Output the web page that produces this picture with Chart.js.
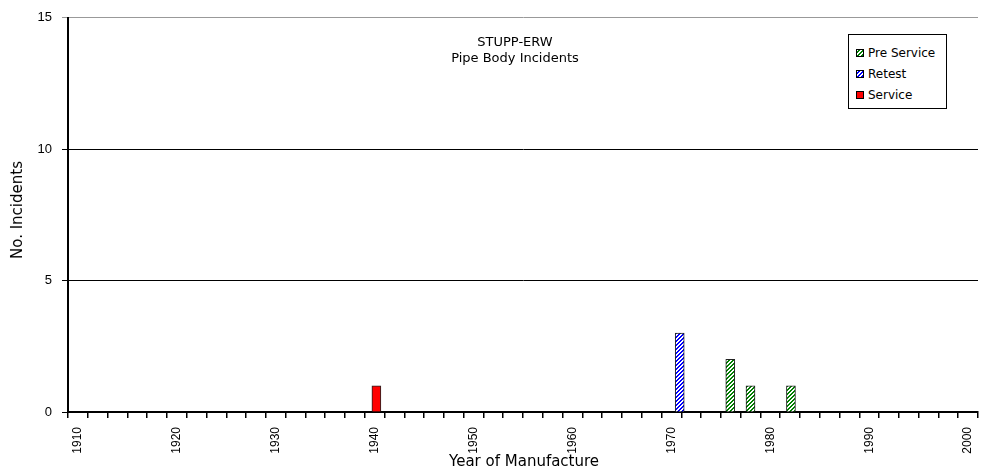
<!DOCTYPE html>
<html>
<head>
<meta charset="utf-8">
<script src="https://cdn.jsdelivr.net/npm/chart.js@4/dist/chart.umd.min.js"></script>
<style>
  body { margin: 0; background: #fff; }
  #wrap { position: relative; width: 985px; height: 474px; font-family: "DejaVu Sans", sans-serif; color: #000; }
  #chart { position: absolute; left: 0; top: 0; }
  .title { position: absolute; left: 415px; width: 200px; text-align: center; font-size: 13px; }
  .axtitle { position: absolute; font-size: 15px; white-space: nowrap; }
  #legend { position: absolute; left: 848px; top: 34px; width: 97px; height: 73px; border: 1px solid #000; background: #fff; }
  .item { position: absolute; left: 7px; height: 16px; line-height: 16px; font-size: 12px; }
  .sw { display: inline-block; width: 6px; height: 6px; border: 1px solid #000; margin-right: 4px; vertical-align: 0px; }
</style>
</head>
<body>
<div id="wrap">
  <canvas id="chart" width="985" height="474"></canvas>
  <div class="title" style="top:34px">STUPP-ERW</div>
  <div class="title" style="top:50px">Pipe Body Incidents</div>
  <div class="axtitle" style="left:-32px;top:201px;transform:rotate(-90deg)">No. Incidents</div>
  <div class="axtitle" style="left:449px;top:452px">Year of Manufacture</div>
  <div id="legend"></div>
</div>
<script>
// data
const preServiceYears = [1975, 1977, 1981];
const preServiceCounts = [2, 1, 1];
const retestYears = [1970];
const retestCounts = [3];
const serviceYears = [1940];
const serviceCounts = [1];

const yTicks = [0, 5, 10, 15];
const xLabelYears = [1910, 1920, 1930, 1940, 1950, 1960, 1970, 1980, 1990, 2000];

// one category per year of manufacture
const years = [];
for (let y = 1910; y < 2000; y++) years.push(String(y));

function hatch(color) {
  const c = document.createElement('canvas');
  c.width = 4; c.height = 4;
  const g = c.getContext('2d');
  g.fillStyle = '#fff';
  g.fillRect(0, 0, 4, 4);
  g.fillStyle = color;
  for (let x = 0; x < 4; x++) {
    for (let y = 0; y < 4; y++) {
      if ((x + y) % 4 < 2) g.fillRect(x, y, 1, 1);
    }
  }
  return g.createPattern(c, 'repeat');
}

function points(ys, vals) {
  return ys.map((y, i) => ({ x: String(y), y: vals[i] }));
}

const series = [
  { name: 'Pre Service', color: '#008000', hatched: true, data: points(preServiceYears, preServiceCounts) },
  { name: 'Retest', color: '#0000ff', hatched: true, data: points(retestYears, retestCounts) },
  { name: 'Service', color: '#ff0000', hatched: false, data: points(serviceYears, serviceCounts) }
];

// html legend
const legend = document.getElementById('legend');
series.forEach((s, i) => {
  const bg = s.hatched
    ? 'repeating-linear-gradient(-45deg, ' + s.color + ' 0 1.5px, #fff 1.5px 3px)'
    : s.color;
  const d = document.createElement('div');
  d.className = 'item';
  d.style.top = (10 + i * 21) + 'px';
  d.innerHTML = '<span class="sw" style="background:' + bg + '"></span>' + s.name;
  legend.appendChild(d);
});

const ctx = document.getElementById('chart').getContext('2d');

new Chart(ctx, {
  type: 'bar',
  data: {
    labels: years,
    datasets: series.map(s => ({
      label: s.name,
      data: s.data,
      xAxisID: 'xb',
      backgroundColor: s.hatched ? hatch(s.color) : s.color,
      borderColor: '#222',
      borderWidth: 1,
      borderSkipped: 'bottom',
      barThickness: 9
    }))
  },
  options: {
    responsive: false,
    animation: false,
    devicePixelRatio: 1,
    layout: { padding: { top: 15, right: 7, left: 0, bottom: 0 } },
    plugins: { legend: { display: false }, tooltip: { enabled: false } },
    scales: {
      xb: {
        type: 'category',
        display: false,
        stacked: true,
        offset: true
      },
      x: {
        type: 'linear',
        position: 'bottom',
        min: 1910,
        max: 2000,
        afterFit: s => { s.height = 62; s.paddingLeft = 0; s.paddingRight = 0; },
        border: { display: true, color: '#000', width: 2 },
        grid: { drawOnChartArea: false, drawTicks: true, tickLength: 6, color: '#000', lineWidth: 1.5 },
        ticks: {
          stepSize: 2,
          autoSkip: false,
          minRotation: 90,
          maxRotation: 90,
          padding: 9,
          color: '#000',
          font: { family: 'Liberation Sans, Arial', size: 12 },
          callback: v => xLabelYears.includes(v) ? String(v) : ''
        }
      },
      y: {
        min: 0,
        max: 15,
        stacked: true,
        afterFit: s => { s.width = 68; },
        afterBuildTicks: s => { s.ticks = yTicks.map(v => ({ value: v })); },
        border: { display: true, color: '#000', width: 2 },
        grid: {
          tickLength: 6,
          lineWidth: 1,
          color: c => (c.tick && c.tick.value === 15) ? '#999' : '#000'
        },
        ticks: {
          padding: 10,
          color: '#000',
          font: { family: 'Liberation Sans, Arial', size: 13 }
        }
      }
    }
  }
});
</script>
</body>
</html>
